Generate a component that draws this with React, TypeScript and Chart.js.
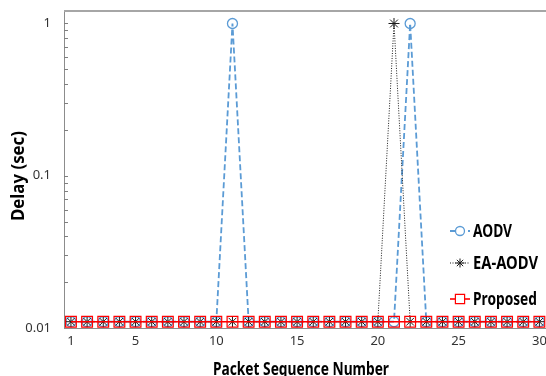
import React, { useEffect, useRef } from "react";
import { Chart, registerables } from "chart.js";

Chart.register(...registerables);

const packetSeq = [1, 2, 3, 4, 5, 6, 7, 8, 9, 10, 11, 12, 13, 14, 15, 16, 17, 18, 19, 20, 21, 22, 23, 24, 25, 26, 27, 28, 29, 30];
const aodvDelay = [0.011, 0.011, 0.011, 0.011, 0.011, 0.011, 0.011, 0.011, 0.011, 0.011, 1, 0.011, 0.011, 0.011, 0.011, 0.011, 0.011, 0.011, 0.011, 0.011, 0.011, 1, 0.011, 0.011, 0.011, 0.011, 0.011, 0.011, 0.011, 0.011];
const eaAodvDelay = [0.011, 0.011, 0.011, 0.011, 0.011, 0.011, 0.011, 0.011, 0.011, 0.011, 0.011, 0.011, 0.011, 0.011, 0.011, 0.011, 0.011, 0.011, 0.011, 0.011, 1, 0.011, 0.011, 0.011, 0.011, 0.011, 0.011, 0.011, 0.011, 0.011];
const proposedDelay = [0.011, 0.011, 0.011, 0.011, 0.011, 0.011, 0.011, 0.011, 0.011, 0.011, 0.011, 0.011, 0.011, 0.011, 0.011, 0.011, 0.011, 0.011, 0.011, 0.011, 0.011, 0.011, 0.011, 0.011, 0.011, 0.011, 0.011, 0.011, 0.011, 0.011];

const seriesNames = ["AODV", "EA-AODV", "Proposed"];
const xTitle = "Packet Sequence Number";
const yTitle = "Delay (sec)";
const xTickValues = [1, 5, 10, 15, 20, 25, 30];
const yTickValues = [0.01, 0.02, 0.03, 0.04, 0.05, 0.06, 0.07, 0.08, 0.09, 0.1, 0.2, 0.3, 0.4, 0.5, 0.6, 0.7, 0.8, 0.9, 1];
const yMajorTicks = [0.01, 0.1, 1];
const yMajorLabels = ["0.01", "0.1", "1"];

const FONT = "'Noto Sans', sans-serif";
const BLUE = "#5b9bd5";
const RED = "#ff0000";
const BLACK = "#1a1a1a";

const styles = [
  { color: BLUE, width: 1.8, dash: [6, 3], pointStyle: "circle", radius: 5, pointBorderWidth: 1.3 },
  { color: BLACK, width: 1, dash: [1, 1.5], pointStyle: "star", radius: 5.5, pointBorderWidth: 1 },
  { color: RED, width: 1.6, dash: [] as number[], pointStyle: "rect", radius: 7.6, pointBorderWidth: 1.2 },
];

function fitText(ctx: CanvasRenderingContext2D, text: string, x: number, y: number, target: number, align: "left" | "center") {
  const w = ctx.measureText(text).width;
  const s = target / w;
  ctx.save();
  ctx.translate(x, y);
  ctx.scale(s, 1);
  ctx.textAlign = align;
  ctx.fillText(text, 0, 0);
  ctx.restore();
}

function drawMarker(ctx: CanvasRenderingContext2D, style: string, r: number, x: number, y: number) {
  ctx.beginPath();
  if (style === "circle") {
    ctx.arc(x, y, r, 0, Math.PI * 2);
    ctx.fill();
    ctx.stroke();
  } else if (style === "rect") {
    const s = r * Math.SQRT1_2;
    ctx.rect(x - s, y - s, 2 * s, 2 * s);
    ctx.fill();
    ctx.stroke();
  } else {
    const d = r * Math.SQRT1_2;
    ctx.moveTo(x - r, y); ctx.lineTo(x + r, y);
    ctx.moveTo(x, y - r); ctx.lineTo(x, y + r);
    ctx.moveTo(x - d, y - d); ctx.lineTo(x + d, y + d);
    ctx.moveTo(x - d, y + d); ctx.lineTo(x + d, y - d);
    ctx.stroke();
  }
}

const framePlugin = {
  id: "frame",
  afterDraw(chart: any) {
    const { ctx, chartArea } = chart;
    const y = chart.scales.y;
    ctx.save();
    // top border
    ctx.strokeStyle = "#a6a6a6";
    ctx.lineWidth = 2;
    ctx.beginPath();
    ctx.moveTo(chartArea.left, chartArea.top);
    ctx.lineTo(chartArea.right, chartArea.top);
    ctx.stroke();
    // inner tick marks on the y axis
    ctx.strokeStyle = "#7f7f7f";
    ctx.lineWidth = 1;
    yTickValues.forEach((v) => {
      if (v === yTickValues[0]) return;
      const py = Math.round(y.getPixelForValue(v)) + 0.5;
      ctx.beginPath();
      ctx.moveTo(chartArea.left, py);
      ctx.lineTo(chartArea.left + 4, py);
      ctx.stroke();
    });

    // axis titles
    ctx.fillStyle = "#000000";
    ctx.textBaseline = "alphabetic";
    ctx.font = `bold 18px ${FONT}`;
    fitText(ctx, xTitle, 301, 375, 176, "center");
    ctx.save();
    ctx.translate(24, 176);
    ctx.rotate(-Math.PI / 2);
    ctx.font = `bold 17px ${FONT}`;
    fitText(ctx, yTitle, 0, 0, 90, "center");
    ctx.restore();

    // legend
    const legendY = [231, 263, 299];
    const legendW = [39, 65, 64];
    seriesNames.forEach((name, i) => {
      const st = styles[i];
      const ly = legendY[i];
      ctx.save();
      ctx.strokeStyle = st.color;
      ctx.lineWidth = st.width;
      ctx.setLineDash(st.dash);
      ctx.beginPath();
      ctx.moveTo(450, ly);
      ctx.lineTo(470, ly);
      ctx.stroke();
      ctx.setLineDash([]);
      ctx.lineWidth = st.pointBorderWidth;
      ctx.fillStyle = "#ffffff";
      drawMarker(ctx, st.pointStyle, i === 2 ? 6.5 : 4.5, 460, ly);
      ctx.restore();
      ctx.save();
      ctx.fillStyle = "#000000";
      ctx.font = `bold 17px ${FONT}`;
      ctx.textBaseline = "alphabetic";
      fitText(ctx, name, 473, ly + 6, legendW[i], "left");
      ctx.restore();
    });
    ctx.restore();
  },
};

export default function App() {
  const canvasRef = useRef<HTMLCanvasElement | null>(null);

  useEffect(() => {
    if (!canvasRef.current) return;
    const seriesValues = [aodvDelay, eaAodvDelay, proposedDelay];
    const datasets = seriesNames.map((name, i) => {
      const st = styles[i];
      return {
        label: name,
        data: packetSeq.map((x, j) => ({ x, y: seriesValues[i][j] })),
        borderColor: st.color,
        borderWidth: st.width,
        borderDash: st.dash,
        backgroundColor: "rgba(0,0,0,0)",
        pointStyle: st.pointStyle,
        pointRadius: st.radius,
        pointBorderColor: st.color,
        pointBorderWidth: st.pointBorderWidth,
        pointBackgroundColor: "rgba(0,0,0,0)",
        tension: 0,
        fill: false,
        order: 3 - i,
        clip: false as any,
      };
    });

    const chart = new Chart(canvasRef.current, {
      type: "line",
      data: { datasets },
      plugins: [framePlugin],
      options: {
        animation: false,
        responsive: false,
        maintainAspectRatio: false,
        layout: { autoPadding: false, padding: { top: 11, left: 0, right: 0, bottom: 0 } },
        plugins: {
          legend: { display: false },
          tooltip: { enabled: false },
        },
        scales: {
          x: {
            type: "linear",
            min: 0.57,
            max: 30.41,
            afterBuildTicks: (scale: any) => {
              scale.ticks = xTickValues.map((v) => ({ value: v }));
            },
            afterFit: (scale: any) => {
              scale.height = 48;
              scale.paddingLeft = 0;
              scale.paddingRight = 0;
            },
            grid: { display: false, drawTicks: false },
            border: { display: true, color: "#8c8c8c", width: 1 },
            ticks: {
              autoSkip: false,
              maxRotation: 0,
              padding: 5,
              color: "#333333",
              font: { family: FONT, size: 13 },
              callback: (v: any) => String(v),
            },
            title: { display: false },
          },
          y: {
            type: "logarithmic",
            min: 0.01,
            max: 1.208,
            afterBuildTicks: (scale: any) => {
              scale.ticks = yTickValues.map((v) => ({ value: v }));
            },
            afterFit: (scale: any) => {
              scale.width = 64;
              scale.paddingTop = 0;
              scale.paddingBottom = 0;
            },
            grid: { display: false, drawTicks: false },
            border: { display: true, color: "#8c8c8c", width: 1 },
            ticks: {
              autoSkip: false,
              padding: 13,
              color: "#333333",
              font: { family: FONT, size: 13 },
              callback: (v: any) => {
                const k = yMajorTicks.findIndex((m) => Math.abs(m - Number(v)) < 1e-9);
                return k >= 0 ? yMajorLabels[k] : "";
              },
            },
            title: { display: false },
          },
        },
      } as any,
    });
    return () => chart.destroy();
  }, []);

  return (
    <div style={{ position: "absolute", left: 0, top: 0, width: 546, height: 376, background: "#ffffff" }}>
      <canvas ref={canvasRef} width={546} height={376} style={{ display: "block", width: 546, height: 376 }} />
    </div>
  );
}
